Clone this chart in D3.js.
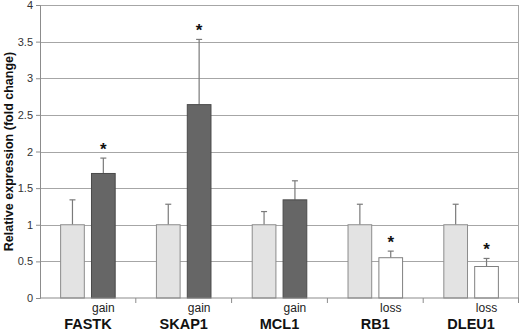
<!DOCTYPE html>
<html>
<head>
<meta charset="utf-8">
<script src="https://cdn.jsdelivr.net/npm/d3@7"></script>
<style>
  body { margin: 0; background: #fff; }
  svg { display: block; font-family: Arial, "Liberation Sans", sans-serif; }
</style>
</head>
<body>
<svg width="520" height="333"></svg>
<script>
const genes = ["FASTK", "SKAP1", "MCL1", "RB1", "DLEU1"];
const changeType = ["gain", "gain", "gain", "loss", "loss"];
const controlValues = [1, 1, 1, 1, 1];
const controlErrors = [0.34, 0.28, 0.18, 0.28, 0.28];
const alteredValues = [1.7, 2.64, 1.34, 0.55, 0.43];
const alteredErrors = [0.21, 0.89, 0.26, 0.09, 0.11];
const significant = [true, true, false, true, true];
const yTicks = [0, 0.5, 1, 1.5, 2, 2.5, 3, 3.5, 4];

const width = 520;
const height = 333;
const margin = { top: 5, right: 1, bottom: 35, left: 40 };

const svg = d3.select("svg");

// scales
const x0 = d3.scaleBand()
  .domain(genes)
  .range([margin.left, width - margin.right])
  .paddingInner(0.42)
  .paddingOuter(0.21);

const x1 = d3.scaleBand()
  .domain(["control", "altered"])
  .range([0, x0.bandwidth()])
  .paddingInner(0.2);

const y = d3.scaleLinear()
  .domain([0, 4])
  .range([height - margin.bottom, margin.top]);

// grid lines
svg.append("g")
  .selectAll("line")
  .data(yTicks.filter(d => d > 0))
  .join("line")
  .attr("x1", margin.left)
  .attr("x2", width - margin.right)
  .attr("y1", d => Math.round(y(d)) + 0.5)
  .attr("y2", d => Math.round(y(d)) + 0.5)
  .attr("stroke", "#a6a6a6")
  .attr("stroke-width", 1.2);

// right border
svg.append("line")
  .attr("x1", width - margin.right - 0.5)
  .attr("x2", width - margin.right - 0.5)
  .attr("y1", y(4))
  .attr("y2", y(0))
  .attr("stroke", "#a6a6a6");

// data table
const rows = genes.map((g, i) => ({
  gene: g,
  type: changeType[i],
  bars: [
    { key: "control", value: controlValues[i], err: controlErrors[i], fill: "#e3e3e3", stroke: "#8c8c8c" },
    {
      key: "altered", value: alteredValues[i], err: alteredErrors[i],
      fill: changeType[i] === "gain" ? "#666666" : "#ffffff",
      stroke: changeType[i] === "gain" ? "#4a4a4a" : "#808080"
    }
  ],
  star: significant[i]
}));

const groups = svg.append("g")
  .selectAll("g")
  .data(rows)
  .join("g")
  .attr("transform", d => `translate(${x0(d.gene)},0)`);

// error bars (drawn first so bars sit on top)
const err = groups.selectAll("g.err")
  .data(d => d.bars)
  .join("g")
  .attr("class", "err")
  .attr("stroke", "#7a7a7a")
  .attr("stroke-width", 1.2);

err.append("line")
  .attr("x1", d => x1(d.key) + x1.bandwidth() / 2)
  .attr("x2", d => x1(d.key) + x1.bandwidth() / 2)
  .attr("y1", d => y(d.value))
  .attr("y2", d => y(d.value + d.err));

err.append("line")
  .attr("x1", d => x1(d.key) + x1.bandwidth() / 2 - 3)
  .attr("x2", d => x1(d.key) + x1.bandwidth() / 2 + 3)
  .attr("y1", d => y(d.value + d.err))
  .attr("y2", d => y(d.value + d.err));

// bars
groups.selectAll("rect")
  .data(d => d.bars)
  .join("rect")
  .attr("x", d => x1(d.key) + 0.5)
  .attr("y", d => y(d.value))
  .attr("width", x1.bandwidth() - 1)
  .attr("height", d => y(0) - y(d.value))
  .attr("fill", d => d.fill)
  .attr("stroke", d => d.stroke)
  .attr("stroke-width", 1);

// significance stars
groups.filter(d => d.star)
  .append("text")
  .attr("x", x1("altered") + x1.bandwidth() / 2)
  .attr("y", d => y(d.bars[1].value + d.bars[1].err) - 3)
  .attr("text-anchor", "middle")
  .attr("font-size", 17)
  .attr("font-weight", "bold")
  .attr("fill", "#111")
  .text("*");

// gain / loss labels
groups.append("text")
  .attr("x", x1("altered") + x1.bandwidth() / 2)
  .attr("y", 312)
  .attr("text-anchor", "middle")
  .attr("font-size", 12)
  .attr("fill", "#222")
  .text(d => d.type);

// gene labels
groups.append("text")
  .attr("x", x0.bandwidth() / 2)
  .attr("y", 329)
  .attr("text-anchor", "middle")
  .attr("font-size", 14.5)
  .attr("font-weight", "bold")
  .attr("fill", "#111")
  .text(d => d.gene);

// x axis with ticks between groups
const xAxisG = svg.append("g")
  .attr("transform", `translate(0,${y(0)})`);
xAxisG.append("line")
  .attr("x1", margin.left)
  .attr("x2", width - margin.right)
  .attr("stroke", "#8c8c8c")
  .attr("stroke-width", 1.2);
xAxisG.selectAll("line.tick")
  .data(genes.slice(1).concat([null]))
  .join("line")
  .attr("class", "tick")
  .attr("x1", d => d ? x0(d) - x0.step() * 0.21 : width - margin.right - 0.5)
  .attr("x2", d => d ? x0(d) - x0.step() * 0.21 : width - margin.right - 0.5)
  .attr("y1", 0)
  .attr("y2", 5)
  .attr("stroke", "#8c8c8c");

// y axis
const yAxis = d3.axisLeft(y)
  .tickValues(yTicks)
  .tickSize(4)
  .tickPadding(3)
  .tickFormat(d3.format("~g"));

svg.append("g")
  .attr("transform", `translate(${margin.left},0)`)
  .call(yAxis)
  .call(g => g.selectAll("path, line").attr("stroke", "#8c8c8c"))
  .call(g => g.selectAll("text")
    .attr("font-size", 11)
    .attr("font-family", "Arial, 'Liberation Sans', sans-serif")
    .attr("fill", "#333"));

// y axis title
svg.append("text")
  .attr("transform", `translate(13,${(y(0) + y(4)) / 2}) rotate(-90)`)
  .attr("text-anchor", "middle")
  .attr("font-size", 12.5)
  .attr("font-weight", "bold")
  .attr("fill", "#111")
  .text("Relative expression (fold change)");
</script>
</body>
</html>
